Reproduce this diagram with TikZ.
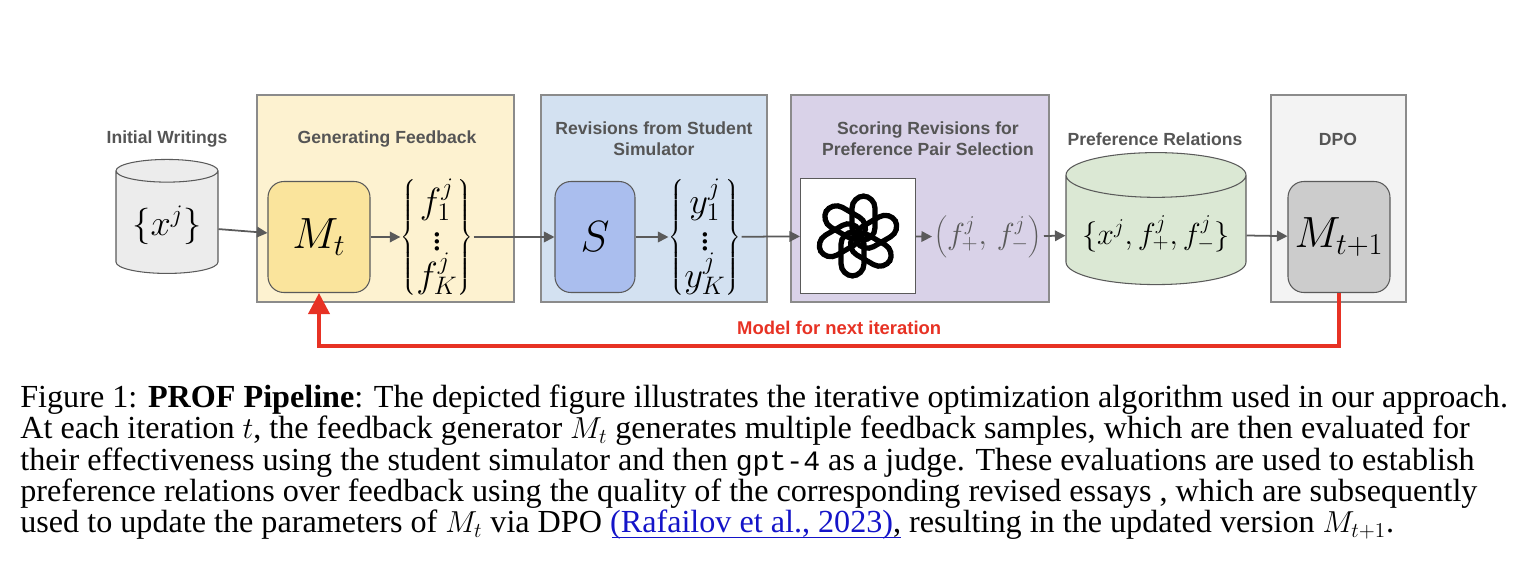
\documentclass[tikz,border=0pt]{standalone}
\usepackage{fontspec}
\setmainfont{Liberation Serif}
\setsansfont{Liberation Sans}
\setmonofont{Liberation Mono}
\usetikzlibrary{shapes.geometric,arrows.meta}
\definecolor{arrowgray}{RGB}{90,90,90}
\definecolor{titlegray}{RGB}{85,85,85}
\definecolor{panelyellow}{RGB}{253,242,208}
\definecolor{panelblue}{RGB}{211,225,241}
\definecolor{panelpurple}{RGB}{217,210,232}
\definecolor{panelgray}{RGB}{243,243,243}
\definecolor{boxyellow}{RGB}{250,228,156}
\definecolor{boxblue}{RGB}{170,190,238}
\definecolor{boxgray}{RGB}{204,204,204}
\definecolor{cylgreen}{RGB}{219,232,212}
\definecolor{cylgray}{RGB}{236,236,236}
\definecolor{loopred}{RGB}{231,50,36}
\definecolor{linkblue}{RGB}{20,20,200}
\newcommand{\sampleset}[2]{\left\{\vcenter{\baselineskip=0pt\lineskip=1pt\halign{\hfil##\hfil\cr$#1^j_1$\cr$\vdots$\cr$#1^j_#2$\cr}}\right\}}
\tikzset{
  panel/.style={draw=arrowgray!70, line width=0.6pt},
  model/.style={draw=arrowgray, rounded corners=9pt, line width=0.6pt, minimum width=2.04cm, minimum height=2.22cm, font=\fontsize{24}{24}\selectfont},
  dbase/.style={draw=arrowgray, cylinder, shape border rotate=90, shape aspect=0.28, line width=0.6pt},
  title/.style={font=\sffamily\bfseries\fontsize{10}{12}\selectfont, text=titlegray, align=center},
  flow/.style={-{Triangle[length=6pt,width=6pt]}, draw=arrowgray, line width=1pt},
  capline/.style={anchor=west, inner sep=0pt, font=\fontsize{18.3}{18.3}\selectfont}
}
\begin{document}
\begin{tikzpicture}[x=0.02cm, y=-0.02cm]
  \useasboundingbox (0,0) rectangle (1516,586);
  % panels
  \draw[panel, fill=panelyellow] (257,95) rectangle (514,302);
  \draw[panel, fill=panelblue] (541,95) rectangle (767,302);
  \draw[panel, fill=panelpurple] (791,95) rectangle (1049,302);
  \draw[panel, fill=panelgray] (1271,95) rectangle (1406,302);
  % titles
  \node[title] (t1) at (167,139) {Initial Writings};
  \node[title] (t2) at (387,139) {Generating Feedback};
  \node[title] (t3) at (654,139) {Revisions from Student\\Simulator};
  \node[title] (t4) at (928,139) {Scoring Revisions for\\Preference Pair Selection};
  \node[title] (t5) at (1155,139) {Preference Relations};
  \node[title] (t6) at (1338,139) {DPO};
  % stages
  \node[dbase, fill=cylgray, minimum width=2.04cm, minimum height=2.28cm, font=\fontsize{20}{20}\selectfont] (init) at (167,225) {$\{x^j\}$};
  \node[model, fill=boxyellow] (mt) at (319,237) {$M_t$};
  \node[font=\fontsize{21}{21}\selectfont, inner sep=0pt] (fset) at (437,237) {$\sampleset{f}{K}$};
  \node[model, fill=boxblue, minimum width=1.6cm] (sim) at (595,237) {$S$};
  \node[font=\fontsize{21}{21}\selectfont, inner sep=0pt] (yset) at (705,237) {$\sampleset{y}{K}$};
  \node[draw=arrowgray, fill=white, line width=0.6pt, minimum width=2.3cm, minimum height=2.3cm] (judge) at (858,236) {};
  \foreach \a in {0,60,...,300}
    \draw[line width=3pt, rounded corners=7pt, shift={(858,236)}, rotate=\a] (-6,-40) rectangle (17,4);
  \node[text=arrowgray, font=\fontsize{17}{17}\selectfont, inner sep=1pt] (pair) at (988,237) {$\left(f^j_+,\, f^j_-\right)$};
  \node[dbase, fill=cylgreen, minimum width=3.6cm, minimum height=2.64cm, font=\fontsize{17}{17}\selectfont] (pref) at (1156,234) {$\{x^j, f^j_+, f^j_-\}$};
  \node[model, fill=boxgray] (mnext) at (1339,237) {$M_{t+1}$};
  % flow
  \draw[flow] (init) -- (mt);
  \draw[flow] (mt) -- (fset);
  \draw[flow] (fset) -- (sim);
  \draw[flow] (sim) -- (yset);
  \draw[flow] (yset) -- (judge);
  \draw[flow] (judge) -- (pair);
  \draw[flow] (pair) -- (pref);
  \draw[flow] (pref) -- (mnext);
  \draw[-{Triangle[length=12pt,width=12pt]}, draw=loopred, line width=2.2pt] (mnext.south) -- (1339,346) -- node[above=2pt, font=\sffamily\bfseries\fontsize{10.5}{12}\selectfont, text=loopred, pos=0.49] (loop) {Model for next iteration} (319,346) -- (mt.south);
  % caption
  \node[capline] (c1) at (20,400) {Figure 1: \textbf{PROF Pipeline}: The depicted figure illustrates the iterative optimization algorithm used in our approach.};
  \node[capline] (c2) at (20,431) {At each iteration $t$, the feedback generator $M_t$ generates multiple feedback samples, which are then evaluated for};
  \node[capline] (c3) at (20,463) {their effectiveness using the student simulator and then {\fontsize{16}{16}\selectfont\texttt{gpt-4}} as a judge. These evaluations are used to establish};
  \node[capline] (c4) at (20,494) {preference relations over feedback using the quality of the corresponding revised essays , which are subsequently};
  \node[capline] (c5) at (20,525) {used to update the parameters of $M_t$ via DPO \textcolor{linkblue}{(Rafailov et al., 2023)}, resulting in the updated version $M_{t+1}$.};
  \draw[linkblue, line width=0.6pt] (c5.south -| 612,0) ++(0,-3) -- ++(289,0);
\end{tikzpicture}
\end{document}
